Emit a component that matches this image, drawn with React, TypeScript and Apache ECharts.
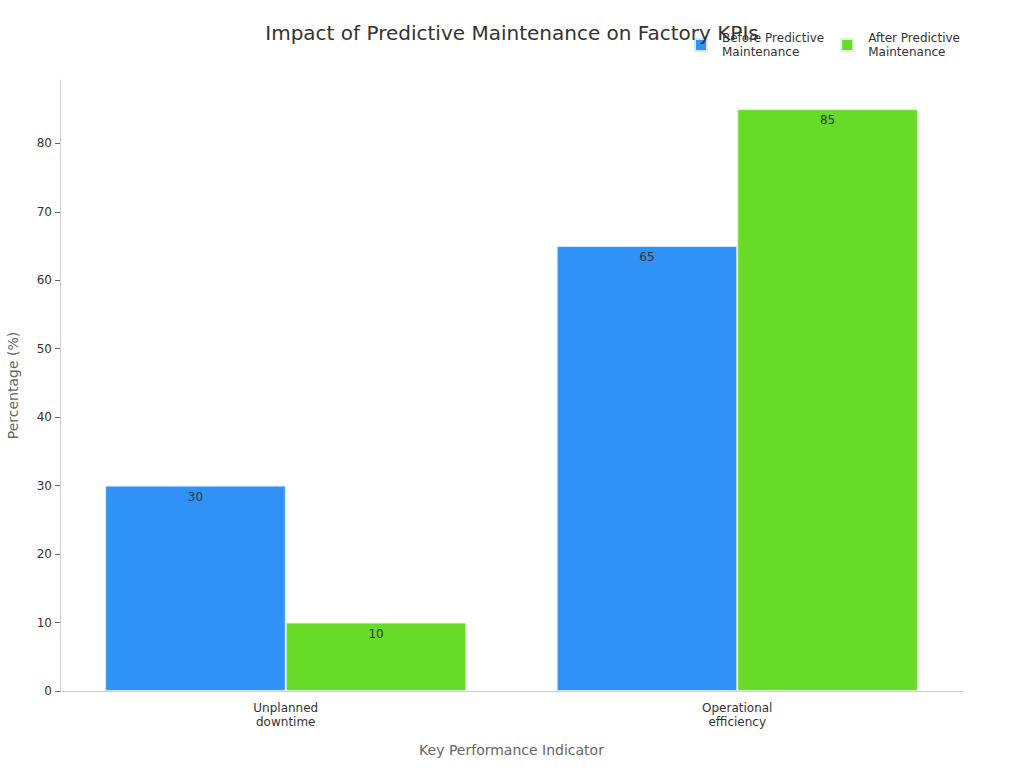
import React, { useEffect, useRef } from "react";
import * as echarts from "echarts";

const categories = ["Unplanned\ndowntime", "Operational\nefficiency"];
const beforeValues = [30, 65];
const afterValues = [10, 85];
const yTicks = [0, 10, 20, 30, 40, 50, 60, 70, 80];
const seriesNames = ["Before Predictive\nMaintenance", "After Predictive\nMaintenance"];

export default function App() {
  const ref = useRef<HTMLDivElement>(null);
  useEffect(() => {
    if (!ref.current) return;
    const chart = echarts.init(ref.current, undefined, { renderer: "svg" });
    const font = "DejaVu Sans";
    const label = {
      show: true,
      position: "insideTop",
      distance: 5,
      color: "#333",
      fontSize: 12,
      fontFamily: font,
    };
    chart.setOption({
      animation: false,
      title: {
        text: "Impact of Predictive Maintenance on Factory KPIs",
        left: "center",
        top: 18,
        textStyle: { fontFamily: font, fontSize: 20, fontWeight: "normal", color: "#333" },
      },
      legend: {
        left: 689,
        top: 26,
        itemWidth: 12,
        itemHeight: 12,
        itemGap: 16,
        icon: "rect",
        textStyle: { fontFamily: font, fontSize: 12, color: "#333", lineHeight: 14, padding: [0, 0, 0, 10] },
      },
      grid: { left: 60, right: 61, top: 80, bottom: 77, outerBoundsMode: "none", containLabel: false },
      xAxis: {
        type: "category",
        data: categories,
        name: "Key Performance Indicator",
        nameLocation: "middle",
        nameGap: 52,
        nameTextStyle: { fontFamily: font, fontSize: 14, color: "#666" },
        axisLine: { lineStyle: { color: "#ccc" } },
        axisTick: { alignWithLabel: true, lineStyle: { color: "#666" } },
        axisLabel: { fontFamily: font, fontSize: 12, color: "#333", lineHeight: 14, margin: 10 },
      },
      yAxis: {
        type: "value",
        min: 0,
        max: 89.25,
        interval: 10,
        name: "Percentage (%)",
        nameLocation: "middle",
        nameGap: 40,
        nameTextStyle: { fontFamily: font, fontSize: 14, color: "#666" },
        axisLine: { show: true, lineStyle: { color: "#ccc" } },
        axisTick: { show: true, customValues: yTicks, lineStyle: { color: "#666" } },
        axisLabel: { customValues: yTicks, fontFamily: font, fontSize: 12, color: "#333" },
        splitLine: { show: false },
      },
      series: [
        {
          name: seriesNames[0],
          type: "bar",
          data: beforeValues,
          barGap: "0%",
          barCategoryGap: "20%",
          itemStyle: { color: "#3091f7", borderColor: "#d8e8fb", borderWidth: 1 },
          label,
        },
        {
          name: seriesNames[1],
          type: "bar",
          data: afterValues,
          itemStyle: { color: "#67db27", borderColor: "#e0f5d4", borderWidth: 1 },
          label,
        },
      ],
    });
    return () => chart.dispose();
  }, []);
  return (
    <div
      ref={ref}
      style={{ position: "fixed", left: 0, top: 0, width: 1024, height: 768, background: "#fff" }}
    />
  );
}
